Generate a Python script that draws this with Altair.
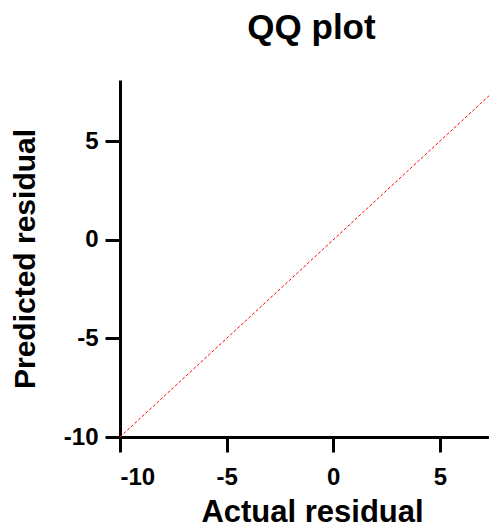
import altair as alt
import pandas as pd

line_x = [-10, 8]
line_y = [-10, 8]
x_ticks = [-10, -5, 0, 5]
y_ticks = [-10, -5, 0, 5]

df = pd.DataFrame({"actual": line_x, "predicted": line_y})

label_expr = "datum.value < 0 ? '-' + abs(datum.value) : '' + datum.value"

axis_common = dict(
    grid=False, domainColor="black", domainWidth=3, tickColor="black",
    tickWidth=3, tickSize=15, labelFont="Liberation Sans", labelFontSize=24,
    labelFontWeight="bold", labelColor="black", titleFont="Liberation Sans",
    titleFontWeight="bold", titleColor="black",
    labelExpr=label_expr,
)

chart = alt.Chart(df).mark_line(
    color="red", strokeDash=[3, 2], strokeWidth=1, clip=True
).encode(
    x=alt.X("actual:Q", title="Actual residual",
            scale=alt.Scale(domain=[-10, 7.3], nice=False, zero=False),
            axis=alt.Axis(values=x_ticks, labelPadding=13, titlePadding=8,
                          titleFontSize=31, titleX=192, **axis_common)),
    y=alt.Y("predicted:Q", title="Predicted residual",
            scale=alt.Scale(domain=[-10, 8.1], nice=False, zero=False),
            axis=alt.Axis(values=y_ticks, labelPadding=7, titlePadding=23,
                          titleFontSize=30, **axis_common)),
).properties(
    width=369, height=357,
    title=alt.TitleParams("QQ plot", font="Liberation Sans", fontSize=35,
                          fontWeight="bold", color="black", offset=34, dx=7),
    autosize=alt.AutoSizeParams(type="none"),
    padding={"left": 112, "top": 72, "right": 0, "bottom": 93},
).configure_view(stroke=None)

chart.save("out.html", embed_options={"renderer": "svg", "actions": False})
